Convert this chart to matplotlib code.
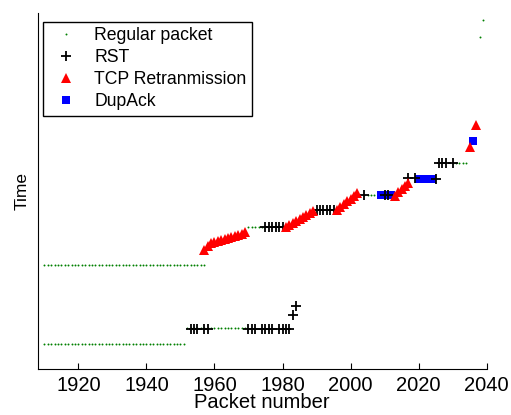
import matplotlib
matplotlib.use('Agg')
import matplotlib.pyplot as plt

plt.rcParams['font.family'] = ['Liberation Sans', 'DejaVu Sans']

# regular packets: runs of consecutive packet numbers (first, last, time)
regular_runs = [(1910, 1951, 26), (1910, 1957, 105), (1952, 1969, 42),
                (1970, 1974, 143), (2004, 2008, 175), (2030, 2034, 207),
                (2038, 2038, 333), (2039, 2039, 350)]

rst_x = [1953, 1954, 1955, 1957, 1958, 1970, 1971, 1972, 1974, 1975, 1976,
         1977, 1979, 1980, 1981, 1982, 1983, 1984,
         1975, 1976, 1977, 1978, 1979, 1980,
         1990, 1991, 1992, 1993, 1994, 1995,
         2004, 2010, 2011, 2017, 2019, 2025,
         2026, 2027, 2028, 2030]
rst_t = [41, 41, 41, 41, 41, 41, 41, 41, 41, 41, 41,
         41, 41, 41, 41, 41, 55, 64,
         143, 143, 143, 143, 143, 143,
         160, 160, 160, 160, 160, 160,
         175, 175, 175, 192, 192, 191,
         207, 207, 207, 207]

retx_x = [1957, 1958, 1959, 1960, 1961, 1962, 1963, 1964, 1965, 1966, 1967,
          1968, 1969,
          1981, 1982, 1983, 1984, 1985, 1986, 1987, 1988, 1989,
          1996, 1997, 1998, 1999, 2000, 2001, 2002,
          2013, 2014, 2015, 2016, 2017,
          2035, 2037]
retx_t = [120, 124, 127, 128, 129, 130, 131, 132, 133, 134, 135,
          136, 138,
          143, 145, 147, 149, 151, 153, 155, 157, 159,
          160, 163, 166, 169, 171, 174, 177,
          174, 178, 181, 184, 187,
          223, 245]

dup_x = [2009, 2010, 2011, 2012, 2020, 2021, 2022, 2023, 2024, 2036]
dup_t = [175, 175, 175, 175, 191, 191, 191, 191, 191, 229]

reg_x = []
reg_t = []
for first, last, t in regular_runs:
    for p in range(first, last + 1):
        reg_x.append(p)
        reg_t.append(t)

fig = plt.figure(figsize=(5.11, 4.15), dpi=100)
ax = fig.add_axes([0.0734, 0.111, 0.879, 0.858])

ax.plot(reg_x, reg_t, 'o', color='green', markersize=1.4, markeredgewidth=0,
        label='Regular packet', zorder=2)
ax.plot(rst_x, rst_t, '+', color='black', markersize=7, markeredgewidth=1.3,
        label='RST', zorder=4)
ax.plot(retx_x, retx_t, '^', color='red', markersize=7.5, markeredgewidth=0,
        label='TCP Retranmission', zorder=5)
ax.plot(dup_x, dup_t, 's', color='blue', markersize=5.5, markeredgewidth=0,
        label='DupAck', zorder=3)

ax.set_xlim(1908, 2040)
ax.set_ylim(1, 357)
ax.set_xticks([1920, 1940, 1960, 1980, 2000, 2020, 2040])
ax.set_yticks([])
ax.spines['top'].set_visible(False)
ax.spines['right'].set_visible(False)
ax.tick_params(axis='x', direction='in', length=4, labelsize=14.5, pad=5)
ax.set_xlabel('Packet number', fontsize=14.5, labelpad=-1)
ax.set_ylabel('Time', fontsize=12.5, labelpad=6)

leg = ax.legend(loc='upper left', bbox_to_anchor=(0.012, 0.975), fontsize=12.7,
                numpoints=1, fancybox=False, framealpha=1, edgecolor='black',
                labelspacing=0.29, handletextpad=0.6, borderpad=0.3,
                borderaxespad=0, handlelength=2.0)
leg.get_frame().set_linewidth(1.0)

fig.savefig('out.png', dpi=100)
